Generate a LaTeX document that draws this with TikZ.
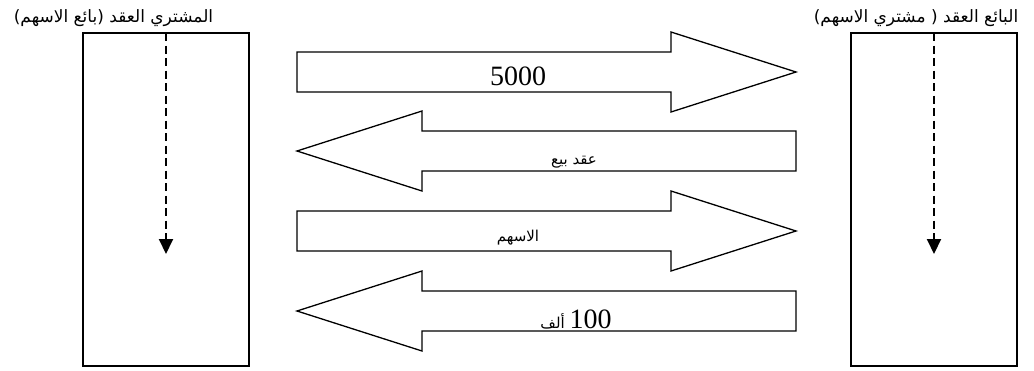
\documentclass[tikz,border=0pt]{standalone}
\usepackage{fontspec}
\setmainfont{Liberation Serif}
\newfontfamily\arabicfont[Script=Arabic]{DejaVu Sans}
\TeXXeTstate=1
\usetikzlibrary{arrows.meta}

\begin{document}
\begin{tikzpicture}[x=1pt, y=-1pt,
  party/.style={draw, line width=1.3pt, minimum width=166pt, minimum height=333pt, inner sep=0pt, outer sep=0pt},
  partylab/.style={font=\arabicfont\fontsize{17}{20}\selectfont, inner sep=0pt},
  flow/.style={draw, line width=1.3pt, line join=miter},
  numlab/.style={font=\fontsize{28}{30}\selectfont, inner sep=0pt},
  arlab/.style={font=\arabicfont\fontsize{15}{18}\selectfont, inner sep=0pt},
  seq/.style={line width=2pt, dash pattern=on 8pt off 4.5pt, -{Triangle[width=14pt,length=15pt]}}]
\useasboundingbox (0,0) rectangle (1034,370);
\def\L{297}\def\R{796}\def\HL{125}
% ---------------- the two parties
\node[party] (buyer) at (166,199.5) {};
\node[party] (seller) at (934,199.5) {};
\node[partylab] (buyerlab) at (113.5,18) {\beginR المشتري العقد (بائع الاسهم)\endR};
\node[partylab] (sellerlab) at (916,18) {\beginR البائع العقد ( مشتري الاسهم)\endR};
\coordinate (buyerend) at (166,254);
\coordinate (sellerend) at (934,254);
\draw[seq] (buyer.north) -- (buyerend);
\draw[seq] (seller.north) -- (sellerend);
% ---------------- block arrows, buyer -> seller
\foreach \y in {72,231} {
  \draw[flow] (\L,\y-20) -- (\R-\HL,\y-20) -- (\R-\HL,\y-40) -- (\R,\y)
    -- (\R-\HL,\y+40) -- (\R-\HL,\y+20) -- (\L,\y+20) -- cycle;
}
% ---------------- block arrows, seller -> buyer
\foreach \y in {151,311} {
  \draw[flow] (\R,\y-20) -- (\L+\HL,\y-20) -- (\L+\HL,\y-40) -- (\L,\y)
    -- (\L+\HL,\y+40) -- (\L+\HL,\y+20) -- (\R,\y+20) -- cycle;
}
\node[numlab] (cash) at (518,76.5) {5000};
\node[arlab] (contract) at (574,162) {\beginR عقد بيع\endR};
\node[arlab] (shares) at (518,238) {\beginR الاسهم\endR};
\node[arlab] (thousand) at (576,320) {\beginR{\fontsize{28}{30}\rmfamily\beginL 100\endL}\ ألف\endR};
\end{tikzpicture}
\end{document}
